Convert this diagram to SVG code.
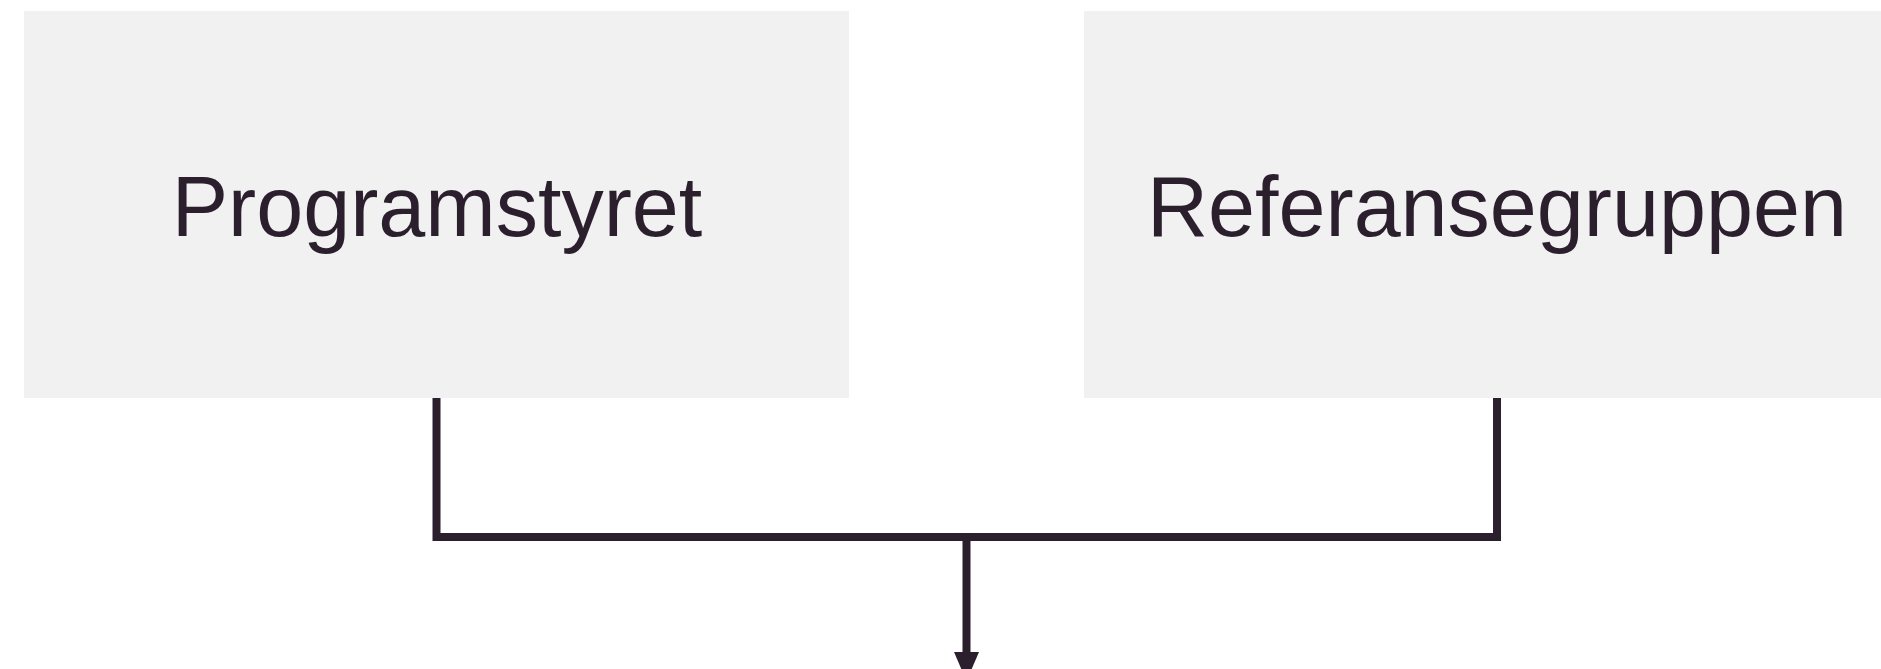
<svg xmlns="http://www.w3.org/2000/svg" width="1881" height="669" viewBox="0 0 1881 669">
<style>
.box{fill:#f1f1f1;}
.lbl{font-family:"Liberation Sans",Arial,sans-serif;font-size:84.5px;fill:#2b1f2e;text-anchor:middle;}
.conn{fill:none;stroke:#2b1f2e;stroke-width:8;stroke-linejoin:miter;stroke-linecap:butt;}
.head{fill:#2b1f2e;}
</style>
<g id="node-programstyret">
<rect class="box" x="24" y="11" width="825" height="387"/>
<text class="lbl" x="437" y="236">Programstyret</text>
</g>
<g id="node-referansegruppen">
<rect class="box" x="1084" y="11" width="826" height="387"/>
<text class="lbl" x="1497" y="236">Referansegruppen</text>
</g>
<g id="connectors">
<path class="conn" d="M436.5 398 V537 H1497 V398"/>
<path class="conn" d="M966.5 537 V655"/>
<polygon class="head" points="954,652 979,652 966.5,681"/>
</g>
</svg>
